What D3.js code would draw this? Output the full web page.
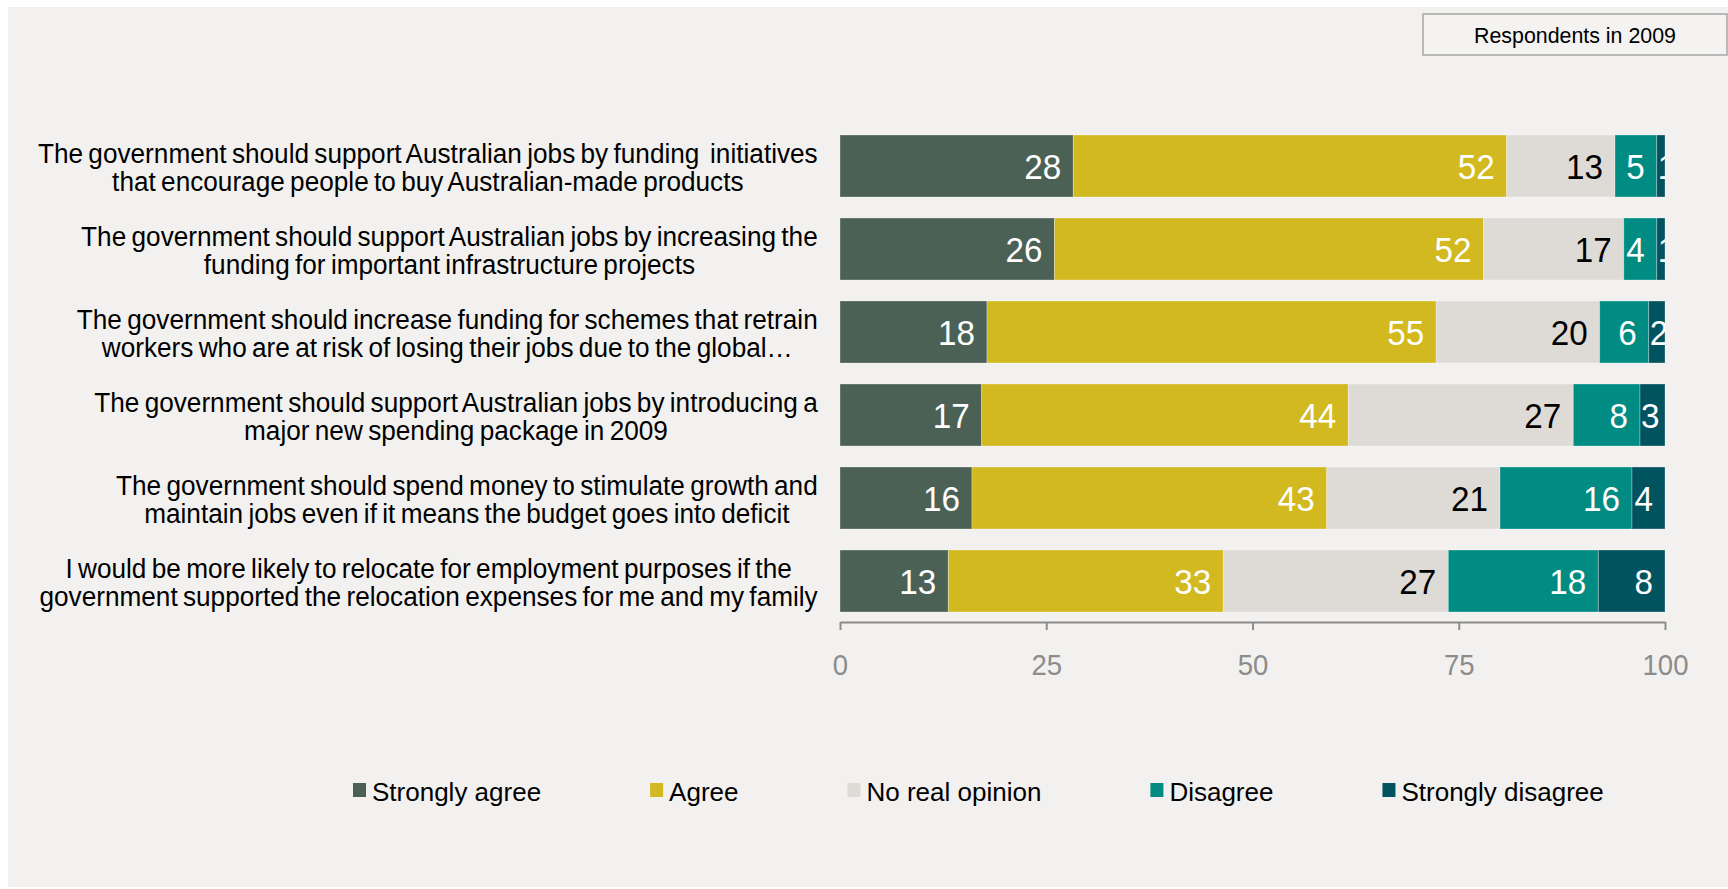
<!DOCTYPE html>
<html>
<head>
<meta charset="utf-8">
<script src="https://cdn.jsdelivr.net/npm/d3@7"></script>
<style>
  html, body { margin: 0; padding: 0; background: #ffffff; }
  svg { display: block; font-family: "Liberation Sans", Arial, Helvetica, sans-serif; }
  text { white-space: pre; }
</style>
</head>
<body>
<svg id="chart" width="1728" height="889"></svg>
<script>
// Survey statements (two lines each)
const categories = [
  ["The government should support Australian jobs by funding  initiatives", "that encourage people to buy Australian-made products"],
  ["The government should support Australian jobs by increasing the", "funding for important infrastructure projects"],
  ["The government should increase funding for schemes that retrain", "workers who are at risk of losing their jobs due to the global\u2026"],
  ["The government should support Australian jobs by introducing a", "major new spending package in 2009"],
  ["The government should spend money to stimulate growth and", "maintain jobs even if it means the budget goes into deficit"],
  ["I would be more likely to relocate for employment purposes if the", "government supported the relocation expenses for me and my family"]
];

// Share of respondents (%) per answer
const strongAgree    = [28, 26, 18, 17, 16, 13];
const agree          = [52, 52, 55, 44, 43, 33];
const noOpinion      = [13, 17, 20, 27, 21, 27];
const disagree       = [5, 4, 6, 8, 16, 18];
const strongDisagree = [1, 1, 2, 3, 4, 8];

const seriesNames = ["Strongly agree", "Agree", "No real opinion", "Disagree", "Strongly disagree"];
const tickValues = [0, 25, 50, 75, 100];
const boxTitle = "Respondents in 2009";

// Styling
const seriesColors = ["#4c6155", "#d1b91f", "#dedad6", "#008c82", "#00535f"];
const labelColors  = ["#ffffff", "#ffffff", "#000000", "#ffffff", "#ffffff"];
const keys = ["sa", "ag", "no", "di", "sd"];

const rows = categories.map((lines, i) => ({
  key: i, lines,
  sa: strongAgree[i], ag: agree[i], no: noOpinion[i], di: disagree[i], sd: strongDisagree[i]
}));

const svg = d3.select("#chart");

// Panel background
svg.append("rect").attr("x", 8).attr("y", 7).attr("width", 1720).attr("height", 880).attr("fill", "#f2f1ef");

// Scales
const x = d3.scaleLinear().domain([0, 100]).range([840, 1665]);
const y = d3.scaleBand().domain(rows.map(r => r.key)).range([124.5, 622.5]).paddingInner(0.253).paddingOuter(0.1265);

// 100% stacked bars
const stack = d3.stack().keys(keys).offset(d3.stackOffsetExpand);
const layers = stack(rows);

svg.append("defs").append("clipPath").attr("id", "plotClip")
  .append("rect").attr("x", x(0)).attr("y", 0).attr("width", x(100) - x(0)).attr("height", 889);

const plot = svg.append("g").attr("clip-path", "url(#plotClip)");
const numScale = 0.95;

layers.forEach((layer, li) => {
  const lg = plot.append("g");
  lg.selectAll("rect").data(layer).join("rect")
    .attr("x", d => x(d[0] * 100))
    .attr("y", d => y(d.data.key))
    .attr("width", d => x(d[1] * 100) - x(d[0] * 100))
    .attr("height", y.bandwidth())
    .attr("fill", seriesColors[li])
    .attr("stroke", "rgba(255,255,255,0.3)")
    .attr("stroke-width", 1);

  // value labels at the inside end of each segment
  lg.selectAll("g.val").data(layer).join("g").attr("class", "val")
    .each(function (d) {
      const x0 = x(d[0] * 100), x1 = x(d[1] * 100);
      const g = d3.select(this);
      const t = g.append("text")
        .text(d.data[keys[li]])
        .attr("font-size", 35)
        .attr("fill", labelColors[li]);
      const w = t.node().getComputedTextLength() * numScale;
      let left = x1 - 12 - w;
      if (left < x0 + 1) left = x0 + 1;
      g.attr("transform", `translate(${left},${y(d.data.key) + y.bandwidth() / 2 + 13}) scale(${numScale},1)`);
    });
});

// Category labels: block right-aligned, lines centred within the block
const labelRight = 818;
const catScale = 0.97;
rows.forEach(r => {
  const cy = y(r.key) + y.bandwidth() / 2;
  const grp = svg.append("g");
  const texts = r.lines.map(line => grp.append("text")
    .text(line)
    .attr("font-size", 27)
    .attr("word-spacing", -2)
    .attr("fill", "#000")
    .attr("text-anchor", "middle"));
  const widths = texts.map(t => t.node().getComputedTextLength() * catScale);
  const cx = labelRight - d3.max(widths) / 2;
  texts.forEach((t, k) => t.attr("transform", `translate(${cx},${cy - 3.5 + k * 28}) scale(${catScale},1)`));
});

// Axis
const axis = svg.append("g")
  .attr("transform", `translate(0,622)`)
  .call(d3.axisBottom(x).tickValues(tickValues).tickSize(8).tickPadding(24).tickSizeOuter(0));
axis.select(".domain").attr("stroke", "#8c8c8c").attr("stroke-width", 2);
axis.selectAll(".tick line").attr("stroke", "#8c8c8c").attr("stroke-width", 2);
axis.selectAll(".tick text")
  .attr("font-size", 29)
  .attr("font-family", "Liberation Sans, Arial, sans-serif")
  .attr("fill", "#8c8c8c")
  .attr("transform", `scale(${numScale},1)`);

// Legend
const legScale = 1.0;
let lx = 353;
const legend = svg.append("g");
seriesNames.forEach((name, i) => {
  legend.append("rect").attr("x", lx).attr("y", 783).attr("width", 13).attr("height", 14).attr("fill", seriesColors[i]);
  const t = legend.append("text").text(name)
    .attr("font-size", 26).attr("fill", "#000")
    .attr("transform", `translate(${lx + 19},801) scale(${legScale},1)`);
  const w = t.node().getComputedTextLength() * legScale;
  lx += 19 + w + 109;
});

// Title box
svg.append("rect").attr("x", 1423).attr("y", 14).attr("width", 304).attr("height", 41)
  .attr("fill", "#f4f3f1").attr("stroke", "#a6a6a6").attr("stroke-width", 1.5);
svg.append("text").text(boxTitle)
  .attr("font-size", 23).attr("fill", "#000").attr("text-anchor", "middle")
  .attr("transform", `translate(1575,43) scale(0.93,1)`);
</script>
</body>
</html>
